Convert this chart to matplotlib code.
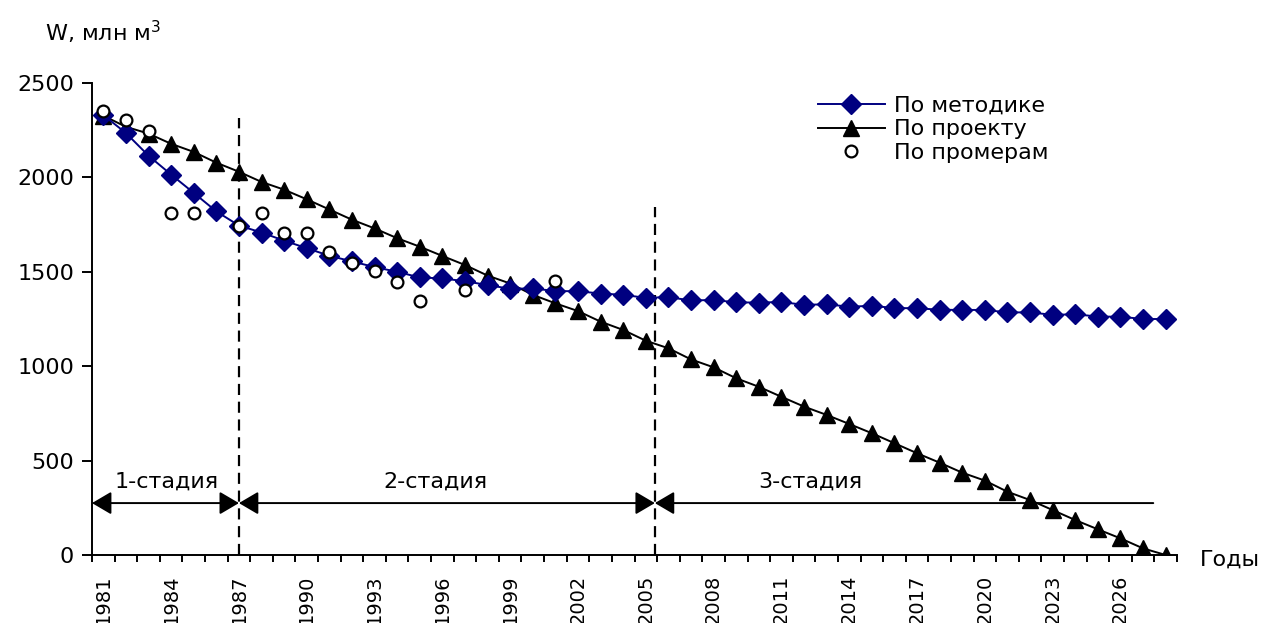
import matplotlib
matplotlib.use("Agg")
import matplotlib.pyplot as plt
from matplotlib.patches import ArrowStyle

plt.rcParams['font.family'] = ['DejaVu Sans']

# данные
years = list(range(1981, 2029))
po_metodike = [2330, 2235, 2115, 2015, 1918, 1820, 1745, 1708, 1665, 1625,
               1585, 1555, 1525, 1500, 1470, 1465, 1450, 1430, 1410, 1412,
               1398, 1397, 1385, 1378, 1362, 1366, 1348, 1351, 1338, 1337,
               1340, 1325, 1328, 1315, 1320, 1308, 1307, 1299, 1298, 1298,
               1285, 1285, 1272, 1275, 1263, 1262, 1250, 1250]
po_proektu = [2327, 2268, 2232, 2178, 2135, 2078, 2030, 1976, 1935, 1884,
              1830, 1776, 1730, 1678, 1633, 1584, 1536, 1480, 1438, 1378,
              1333, 1292, 1236, 1192, 1135, 1095, 1036, 994, 936, 891,
              838, 786, 742, 694, 645, 592, 539, 489, 436, 394,
              335, 291, 238, 185, 136, 88, 35, 0]
promer_years = [1981, 1982, 1983, 1984, 1985, 1987, 1988, 1989, 1990, 1991,
                1992, 1993, 1994, 1995, 1997, 2001]
po_promeram = [2352, 2304, 2246, 1810, 1810, 1744, 1810, 1708, 1708, 1607,
               1549, 1506, 1448, 1347, 1404, 1453]
label_years = list(range(1981, 2027, 3))

# границы стадий
stage_bounds = [1980.5, 1987.0, 2005.4, 2027.45]
stage_tops = [2315, 1843]
stage_names = ['1-стадия', '2-стадия', '3-стадия']
stage_text_x = [1983.8, 1995.7, 2012.3]
stage_y = 275

fig = plt.figure(figsize=(12.8, 6.23), dpi=100)
ax = fig.add_axes([92 / 1280, 1 - 555 / 623, (1177 - 92) / 1280, (555 - 83) / 623])

ax.plot(years, po_metodike, color='#000080', lw=1.4, marker='D', ms=10,
        label='По методике', zorder=4)
ax.plot(years, po_proektu, color='black', lw=1.4, marker='^', ms=12,
        label='По проекту', zorder=3)
ax.plot(promer_years, po_promeram, ls='none', marker='o', ms=8.5, mfc='white',
        mec='black', mew=1.6, label='По промерам', zorder=5)

# вертикальные пунктиры
for xb, top in zip(stage_bounds[1:3], stage_tops):
    ax.plot([xb, xb], [0, top], color='black', lw=1.6, ls=(0, (5, 3)), zorder=2)

# стрелки стадий
st2 = ArrowStyle('<|-|>', head_length=0.85, head_width=0.5)
st1 = ArrowStyle('-|>', head_length=0.85, head_width=0.5)
for i in range(3):
    ax.annotate('', xy=(stage_bounds[i], stage_y), xytext=(stage_bounds[i + 1], stage_y),
                arrowprops=dict(arrowstyle=st2 if i < 2 else st1, color='black', lw=1.4,
                                mutation_scale=14, shrinkA=0, shrinkB=0),
                annotation_clip=False)
for xc, name in zip(stage_text_x, stage_names):
    ax.text(xc, 390, name, ha='center', va='center', fontsize=16)

ax.set_xlim(1980.5, 2028.5)
ax.set_ylim(0, 2500)
ax.set_yticks(range(0, 2501, 500))
ax.set_xticks([y - 0.5 for y in years] + [2028.5])
ax.set_xticklabels([])
ax.set_xticks(label_years, minor=True)
ax.set_xticklabels([str(y) for y in label_years], minor=True, rotation=90, fontsize=14)
ax.tick_params(axis='x', which='major', length=5, width=1.4, direction='out')
ax.tick_params(axis='x', which='minor', length=0, pad=14)
ax.tick_params(axis='y', length=7, width=1.4, labelsize=16, pad=6)
for s in ['top', 'right']:
    ax.spines[s].set_visible(False)
for s in ['left', 'bottom']:
    ax.spines[s].set_linewidth(1.4)

fig.text(45 / 1280, 1 - 32 / 623, 'W, млн м$^3$', fontsize=16, va='center', ha='left')
fig.text(1200 / 1280, 1 - 560 / 623, 'Годы', fontsize=16, va='center', ha='left')

ax.legend(loc='upper left', bbox_to_anchor=(818 / 1280, 1 - 96 / 623),
          bbox_transform=fig.transFigure, frameon=False, fontsize=16,
          handlelength=3.0, handletextpad=0.4, labelspacing=0.15,
          borderpad=0, borderaxespad=0)

fig.savefig('out.png', dpi=100)
